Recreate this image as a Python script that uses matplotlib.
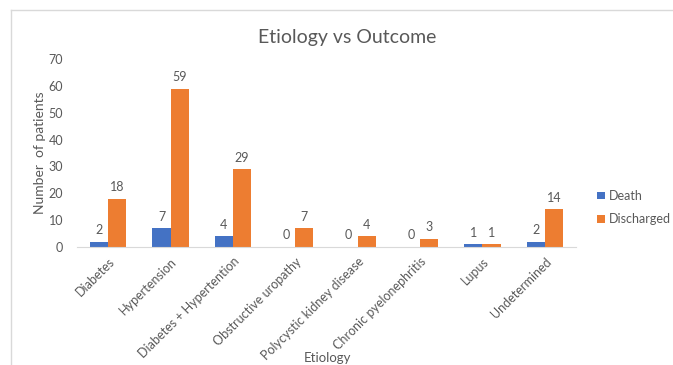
import numpy as np
import matplotlib.pyplot as plt
from matplotlib.lines import Line2D

etiology = ['Diabetes', 'Hypertension', 'Diabetes + Hypertention',
            'Obstructive uropathy', 'Polycystic kidney disease',
            'Chronic pyelonephritis', 'Lupus', 'Undetermined']
death = [2, 7, 4, 0, 0, 0, 1, 2]
discharged = [18, 59, 29, 7, 4, 3, 1, 14]
yticks = [0, 10, 20, 30, 40, 50, 60, 70]

blue = '#4472C4'
orange = '#ED7D31'
grey_txt = '#595959'

plt.rcParams['font.family'] = ['Lato', 'DejaVu Sans']

fig = plt.figure(figsize=(6.73, 3.65), dpi=100)
ax = fig.add_axes([0.1144, 0.3233, 0.7415, 0.5151])

x = np.arange(len(etiology))
w = 0.29
b1 = ax.bar(x - w / 2, death, w, color=blue, label='Death')
b2 = ax.bar(x + w / 2, discharged, w, color=orange, label='Discharged')
ax.bar_label(b1, padding=4, fontsize=9, color=grey_txt)
ax.bar_label(b2, padding=4, fontsize=9, color=grey_txt)

ax.set_xlim(-0.5, len(etiology) - 0.5)
ax.set_ylim(0, 70)
ax.set_yticks(yticks)
ax.set_xticks(x)
ax.set_xticklabels(etiology, rotation=45, ha='right', rotation_mode='anchor')
ax.tick_params(axis='both', length=0, labelsize=9, colors=grey_txt)
ax.tick_params(axis='y', pad=10)
ax.tick_params(axis='x', pad=6)

for s in ['top', 'right', 'left']:
    ax.spines[s].set_visible(False)
ax.spines['bottom'].set_color('#D9D9D9')

ax.set_ylabel('Number  of patients', fontsize=10, color=grey_txt, labelpad=2)
fig.text(0.486, 0.02, 'Etiology', ha='center', va='center', fontsize=9.5, color=grey_txt)
fig.text(0.516, 0.897, 'Etiology vs Outcome', ha='center', va='center',
         fontsize=14, color=grey_txt)

ax.legend(loc='center left', bbox_to_anchor=(1.02, 0.21), frameon=False,
          fontsize=9, labelcolor=grey_txt, handlelength=0.6, handleheight=0.6,
          handletextpad=0.3, labelspacing=0.9)

# chart area border
fig.add_artist(Line2D([11 / 673, 11 / 673], [0, 1 - 10 / 365],
                      transform=fig.transFigure, color='#D9D9D9', lw=1))
fig.add_artist(Line2D([11 / 673, 1], [1 - 10 / 365, 1 - 10 / 365],
                      transform=fig.transFigure, color='#D9D9D9', lw=1))

fig.savefig('out.png', dpi=100, facecolor='white')
